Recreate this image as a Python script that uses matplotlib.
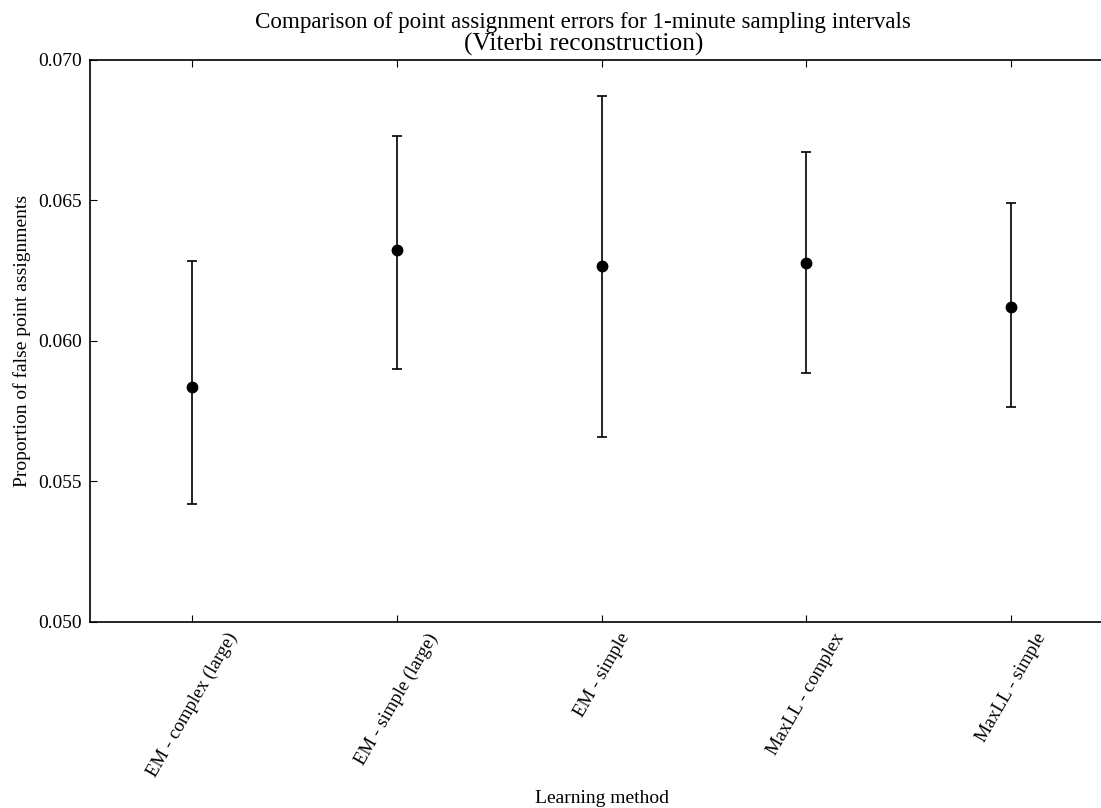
import matplotlib
matplotlib.use("Agg")
import matplotlib.pyplot as plt
import numpy as np

methods = ["EM - complex (large)", "EM - simple (large)", "EM - simple",
           "MaxLL - complex", "MaxLL - simple"]
means = [0.05836, 0.06322, 0.06266, 0.06276, 0.06121]
upper = [0.06285, 0.06731, 0.06872, 0.06671, 0.06492]
lower = [0.05418, 0.05899, 0.05657, 0.05886, 0.05764]
yticks = [0.050, 0.055, 0.060, 0.065, 0.070]
title1 = "Comparison of point assignment errors for 1-minute sampling intervals"
title2 = "(Viterbi reconstruction)"

plt.rcParams['font.family'] = ['Liberation Serif', 'DejaVu Serif']
plt.rcParams['font.size'] = 14

W, H = 1101, 808
fig = plt.figure(figsize=(W/100, H/100), dpi=100)
ax = fig.add_axes([90/W, (H-621.7)/H, 1023.5/W, (621.7-60)/H])

x = np.arange(len(methods))
m = np.array(means)
err = np.vstack([m - np.array(lower), np.array(upper) - m])
ax.errorbar(x, m, yerr=err, fmt='o', color='black', ecolor='black',
            markersize=7.5, elinewidth=1.2, capsize=3.6, capthick=1.2)

ax.set_xlim(-0.5, 4.5)
ax.set_ylim(0.050, 0.070)
ax.set_yticks(yticks)
ax.set_yticklabels([f"{v:.3f}" for v in yticks])
ax.set_xticks(x)
ax.set_xticklabels(methods, rotation=60, fontsize=13.6)
ax.tick_params(direction='in', top=True, right=True, length=5, width=0.8, pad=6)
for s in ax.spines.values():
    s.set_linewidth(1.2)

ax.set_xlabel("Learning method", labelpad=7)
ax.set_ylabel("Proportion of false point assignments", labelpad=5)

fig.text(583/W, 1 - 28.3/H, title1, ha='center', va='baseline', fontsize=16.6)
fig.text(584/W, 1 - 50.5/H, title2, ha='center', va='baseline', fontsize=18.3)

fig.savefig("out.png", dpi=100)
